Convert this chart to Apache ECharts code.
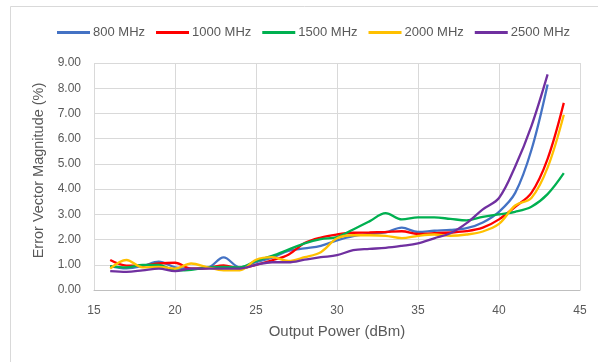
<!DOCTYPE html>
<html>
<head>
<meta charset="utf-8">
<style type="text/css">
    html, body { margin: 0; padding: 0; background: #fff; }
    #main { width: 598px; height: 362px; }
</style>
</head>
<body>
<div id="main"></div>
<script type="text/javascript" src="https://cdn.jsdelivr.net/npm/echarts@6/dist/echarts.min.js"></script>
<script type="text/javascript">
    // 横轴：输出功率 (dBm)
    var power = [16, 17, 18, 19, 20, 21, 22, 23, 24, 25, 26, 27, 28, 29, 30,
                 31, 32, 33, 34, 35, 36, 37, 38, 39, 40, 41, 42, 43, 44];

    // EVM (%) 各频点
    var evm800  = [0.95, 0.86, 0.95, 1.12, 0.90, 0.85, 0.88, 1.29, 0.90, 1.10, 1.28, 1.55, 1.65, 1.75, 1.97,
                   2.14, 2.22, 2.28, 2.47, 2.30, 2.35, 2.38, 2.45, 2.68, 3.10, 3.85, 5.55, 8.15];
    var evm1000 = [1.19, 0.97, 0.97, 1.05, 1.08, 0.85, 0.87, 0.98, 0.86, 1.00, 1.18, 1.40, 1.86, 2.08, 2.20,
                   2.27, 2.28, 2.30, 2.33, 2.22, 2.25, 2.28, 2.33, 2.47, 2.80, 3.30, 3.85, 5.20, 7.42];
    var evm1500 = [0.95, 0.90, 1.00, 1.00, 0.78, 0.80, 0.90, 0.92, 0.90, 1.15, 1.35, 1.60, 1.85, 2.02, 2.10,
                   2.40, 2.72, 3.05, 2.80, 2.88, 2.88, 2.82, 2.76, 2.90, 3.00, 3.10, 3.30, 3.80, 4.63];
    var evm2000 = [0.85, 1.19, 0.90, 0.92, 0.85, 1.05, 0.90, 0.78, 0.78, 1.20, 1.30, 1.15, 1.30, 1.50, 2.05,
                   2.17, 2.17, 2.15, 2.06, 2.15, 2.20, 2.15, 2.20, 2.32, 2.62, 3.35, 3.65, 4.85, 6.95];
    var evm2500 = [0.75, 0.72, 0.78, 0.85, 0.75, 0.85, 0.85, 0.85, 0.85, 1.00, 1.10, 1.10, 1.20, 1.30, 1.38,
                   1.58, 1.63, 1.67, 1.75, 1.85, 2.05, 2.25, 2.65, 3.20, 3.65, 4.90, 6.50, 8.55];

    var names  = ['800 MHz', '1000 MHz', '1500 MHz', '2000 MHz', '2500 MHz'];
    var colors = ['#4472C4', '#FF0000', '#00B050', '#FFC000', '#7030A0'];
    var values = [evm800, evm1000, evm1500, evm2000, evm2500];

    function pairs(arr) {
        return arr.map(function (v, i) { return [power[i], v]; });
    }

    var myChart = echarts.init(document.getElementById('main'));
    var font = 'Liberation Sans, Arial, sans-serif';

    var series = names.map(function (n, i) {
        return {
            name: n,
            type: 'line',
            smooth: 0.35,
            showSymbol: false,
            symbol: 'none',
            lineStyle: { width: 2.3, color: colors[i] },
            itemStyle: { color: colors[i] },
            data: pairs(values[i])
        };
    });

    myChart.setOption({
        animation: false,
        color: colors,
        textStyle: { fontFamily: font },
        graphic: [{
            type: 'rect',
            shape: { x: 10.5, y: 6.5, width: 700, height: 500 },
            style: { fill: 'none', stroke: '#D9D9D9', lineWidth: 1 },
            silent: true
        }],
        legend: {
            top: 21,
            left: 52,
            itemWidth: 33,
            itemHeight: 3,
            itemGap: 11,
            icon: 'rect',
            textStyle: { color: '#595959', fontSize: 13, fontFamily: font, padding: [0, 0, 0, -2] },
            data: names
        },
        grid: {
            left: 94,
            right: 18,
            top: 63,
            bottom: 72
        },
        xAxis: {
            type: 'value',
            min: 15,
            max: 45,
            interval: 5,
            name: 'Output Power (dBm)',
            nameLocation: 'middle',
            nameGap: 34,
            nameTextStyle: { color: '#595959', fontSize: 15, fontFamily: font },
            axisLine: { show: true, lineStyle: { color: '#BFBFBF' } },
            axisTick: { show: false },
            axisLabel: { color: '#595959', fontSize: 12, margin: 15, fontFamily: font },
            splitLine: { show: true, lineStyle: { color: '#D9D9D9' } }
        },
        yAxis: {
            type: 'value',
            min: 0,
            max: 9,
            interval: 1,
            name: 'Error Vector Magnitude (%)',
            nameLocation: 'middle',
            nameGap: 38,
            nameTextStyle: { color: '#595959', fontSize: 14.5, fontFamily: font, padding: [0, 0, 0, 12] },
            axisLine: { show: false },
            axisTick: { show: false },
            axisLabel: {
                color: '#595959', fontSize: 12, margin: 13, fontFamily: font,
                formatter: function (v) { return v.toFixed(2); }
            },
            splitLine: { show: true, lineStyle: { color: '#D9D9D9' } }
        },
        series: series
    });
</script>
</body>
</html>
